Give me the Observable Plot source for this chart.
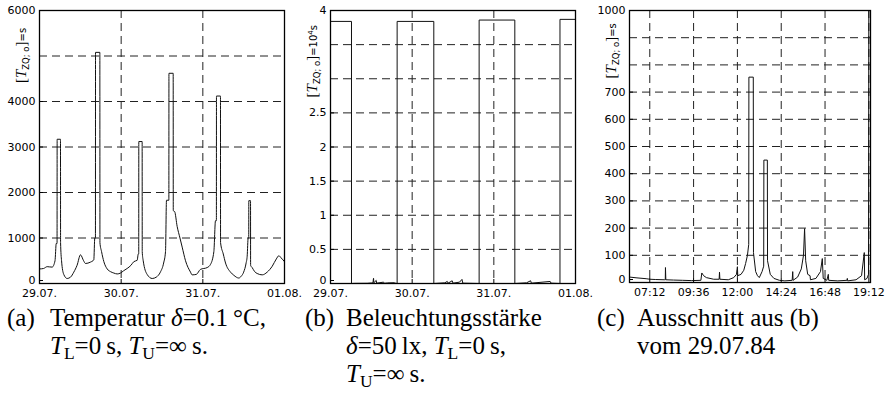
<!DOCTYPE html>
<html><head><meta charset="utf-8">
<script src="https://cdn.jsdelivr.net/npm/d3@7"></script>
<script src="https://cdn.jsdelivr.net/npm/@observablehq/plot@0.6"></script>
<style>
body{margin:0;background:#fff;}
#wrap{position:relative;width:886px;height:395px;overflow:hidden;background:#fff;}
.panel{position:absolute;top:0;}
.cap{position:absolute;font-family:"Liberation Serif","Times New Roman",serif;font-size:25px;line-height:28px;white-space:nowrap;color:#000;}
.cap i{font-style:italic;}
.cap sub{font-size:70%;vertical-align:-0.28em;line-height:0;}
</style></head>
<body>
<div id="wrap">
  <div id="pa" class="panel" style="left:0px"></div>
  <div id="pb" class="panel" style="left:290px"></div>
  <div id="pc" class="panel" style="left:580px"></div>
  <div class="cap" style="left:7px;top:304px">(a)</div>
  <div class="cap" style="left:50px;top:304px">Temperatur <i>δ</i>=0.1&#8201;°C,<br><i>T</i><sub>L</sub>=0&#8201;s, <i>T</i><sub>U</sub>=∞&#8201;s.</div>
  <div class="cap" style="left:305px;top:304px">(b)</div>
  <div class="cap" style="left:346px;top:304px">Beleuchtungsstärke<br><i>δ</i>=50&#8201;lx, <i>T</i><sub>L</sub>=0&#8201;s,<br><i>T</i><sub>U</sub>=∞&#8201;s.</div>
  <div class="cap" style="left:597px;top:304px">(c)</div>
  <div class="cap" style="left:637px;top:304px">Ausschnitt aus (b)<br>vom 29.07.84</div>
</div>
<script>
// ---- data ----
const dayLabels = ["29.07.", "30.07.", "31.07.", "01.08."];
const dayTicks = [0, 1, 2, 3];
const dayGrid = [1, 2];

const tempTicks = [0, 1000, 2000, 3000, 4000, 6000];
const tempGrid = [1000, 2000, 3000, 4000, 5000];
// [days since 29.07. 00:00, T_ZQ;o in s]
const tempSeries = [[0,320],[0.05,330],[0.094,370],[0.155,360],[0.19,500],[0.205,880],[0.215,880],[0.216,3170],[0.257,3170],[0.258,900],[0.27,500],[0.297,200],[0.339,110],[0.38,140],[0.42,250],[0.46,400],[0.502,630],[0.54,500],[0.563,440],[0.624,470],[0.665,520],[0.677,1000],[0.685,1000],[0.686,5080],[0.739,5080],[0.740,900],[0.76,700],[0.788,480],[0.829,320],[0.87,260],[0.91,230],[0.951,210],[0.992,230],[1.03,280],[1.073,330],[1.12,400],[1.155,480],[1.196,510],[1.21,650],[1.215,650],[1.216,3120],[1.257,3120],[1.258,700],[1.27,500],[1.318,200],[1.38,110],[1.43,140],[1.48,250],[1.52,450],[1.543,700],[1.555,1830],[1.584,1830],[1.585,4620],[1.637,4620],[1.638,1600],[1.655,1580],[1.686,1250],[1.72,1000],[1.747,800],[1.788,500],[1.849,250],[1.869,190],[1.92,200],[1.971,310],[2.053,350],[2.094,420],[2.135,700],[2.155,1380],[2.166,1380],[2.167,4120],[2.216,4120],[2.217,900],[2.25,650],[2.278,450],[2.339,250],[2.38,180],[2.44,120],[2.47,160],[2.5,250],[2.53,450],[2.543,600],[2.555,1000],[2.562,1000],[2.563,1820],[2.584,1820],[2.585,400],[2.604,350],[2.635,260],[2.665,220],[2.727,190],[2.788,250],[2.85,380],[2.9,540],[2.931,610],[2.96,560],[3.0,480]];

const lightTicks = [0, 0.5, 1, 1.5, 2, 2.5, 4];
const lightGrid = [0.5, 1, 1.5, 2, 2.5, 3, 3.5];
// [days since 29.07. 00:00, T_ZQ;o in 10^4 s]
const lightSeries = [[0,3.84],[0.257,3.84],[0.2571,0],[0.30,0.002],[0.45,0.003],[0.5,0.008],[0.52,0.01],[0.5265,0.0755],[0.5275,0.0755],[0.53,0.01],[0.56,0.045],[0.565,0.005],[0.65,0.02],[0.66,0.003],[0.70,0.009],[0.78,0.011],[0.80,0.003],[0.8159,0],[0.816,3.84],[1.265,3.84],[1.2651,0],[1.40,0.01],[1.43,0.03],[1.44,0.005],[1.49,0.04],[1.50,0.005],[1.58,0.02],[1.61,0.06],[1.62,0.005],[1.8199,0],[1.82,3.86],[2.257,3.86],[2.2571,0],[2.40,0.01],[2.45,0.04],[2.46,0.005],[2.69,0.03],[2.70,0.005],[2.8099,0],[2.81,3.87],[3.0,3.87]];

const detailTicks = [0, 100, 200, 300, 400, 500, 600, 700, 1000];
const detailGrid = [100, 200, 300, 400, 500, 600, 700, 800, 900];
const hourTicks = [7.2, 9.6, 12, 14.4, 16.8, 19.2];
const hourDomain = [6.09, 19.29];
// [hour of 29.07.84, T_ZQ;o in s]
const detailSeries = [[6.09,20],[6.5,17],[7.0,14],[7.2,12],[7.5,11],[8.0,10],[8.05,10],[8.06,55],[8.08,10],[8.5,9],[9.0,8],[9.5,7],[10.0,8],[10.05,35],[10.15,25],[10.3,18],[10.7,12],[11.0,12],[11.02,38],[11.04,12],[11.5,10],[11.8,18],[11.95,30],[12.0,58],[12.02,25],[12.2,30],[12.35,45],[12.45,70],[12.55,100],[12.62,140],[12.63,755],[12.87,755],[12.88,110],[13.0,40],[13.1,25],[13.2,18],[13.35,40],[13.44,60],[13.45,450],[13.64,450],[13.65,80],[13.8,30],[14.0,15],[14.3,8],[14.6,6],[15.0,8],[15.03,40],[15.05,8],[15.3,20],[15.5,50],[15.62,100],[15.68,198],[15.74,80],[15.85,30],[15.98,25],[16.0,10],[16.3,15],[16.55,40],[16.65,88],[16.7,15],[16.9,8],[16.98,30],[17.0,8],[17.5,6],[18.0,8],[18.02,15],[18.04,6],[18.5,10],[18.8,25],[18.95,110],[18.97,10],[19.1,15],[19.18,30],[19.2,1200],[19.29,1200]];

// ---- drawing ----
const pad = n => String(n).padStart(2, "0");
const hhmm = h => { const t = Math.round(h * 60); return pad(Math.floor(t / 60)) + ":" + pad(t % 60); };

function panel(o) {
  const axisOpts = {anchor: "left", tickSize: -4, tickPadding: 8, tickFormat: o.yFmt, label: null, fontSize: 11};
  const chart = Plot.plot({
    width: o.width, height: 300,
    marginLeft: o.ml, marginRight: o.mr, marginTop: 10, marginBottom: o.mb,
    style: {background: "transparent", overflow: "visible", fontFamily: "'DejaVu Sans', sans-serif", fontSize: "11px", color: "#000"},
    x: {domain: o.xDomain},
    y: {domain: o.yDomain},
    marks: [
      Plot.gridY(o.yGrid, {stroke: "#222", strokeOpacity: 1, strokeWidth: 1, strokeDasharray: "8,5"}),
      Plot.gridX(o.xGrid, {stroke: "#222", strokeOpacity: 1, strokeWidth: 1, strokeDasharray: "8,5"}),
      Plot.line(o.series, {x: d => d[0], y: d => d[1], stroke: "#111", strokeWidth: 1, curve: o.curve, clip: true}),
      Plot.axisY(o.yTicks.filter(d => d !== 0), axisOpts),
      Plot.axisY([0], {...axisOpts, dy: -3}),
      Plot.axisX(o.xTicks, {anchor: "bottom", tickSize: -4, tickPadding: 10, tickFormat: o.xFmt, label: null, fontSize: 11}),
      Plot.frame({stroke: "#000", strokeWidth: 1.3})
    ]
  });
  // rotated y label
  const cy = chart.scale("y").apply(o.labelAt);
  const g = d3.select(chart).append("g").attr("transform", `translate(${o.ml - 17},${cy}) rotate(-90)`);
  const t = g.append("text").attr("text-anchor", "middle").attr("y", 4).attr("fill", "#000");
  t.append("tspan").attr("font-family", "'Liberation Serif', serif").attr("font-size", 15).text("[");
  t.append("tspan").attr("font-family", "'Liberation Serif', serif").attr("font-style", "italic").attr("font-size", 15).text("T");
  t.append("tspan").attr("font-family", "'DejaVu Sans', sans-serif").attr("font-size", 8.5).attr("dy", 3).text("ZQ; o");
  t.append("tspan").attr("font-family", "'Liberation Serif', serif").attr("font-size", 15).attr("dy", -3).text("]");
  t.append("tspan").attr("font-family", "'DejaVu Sans', sans-serif").attr("font-size", 10).text("=" + o.unit);
  if (o.unitSup) {
    t.append("tspan").attr("font-family", "'DejaVu Sans', sans-serif").attr("font-size", 7).attr("dy", -4).text(o.unitSup);
    t.append("tspan").attr("font-family", "'DejaVu Sans', sans-serif").attr("font-size", 10).attr("dy", 4).text("s");
  }
  return chart;
}

document.getElementById("pa").append(panel({
  width: 290, ml: 39, mr: 6, mb: 17,
  xDomain: [0, 3], yDomain: [0, 6000],
  xTicks: dayTicks, xGrid: dayGrid, xFmt: d => dayLabels[d],
  yTicks: tempTicks, yGrid: tempGrid, yFmt: d => String(d),
  series: tempSeries, curve: "monotone-x", labelAt: 5000, unit: "s"
}));
document.getElementById("pb").append(panel({
  width: 290, ml: 40, mr: 5, mb: 17,
  xDomain: [0, 3], yDomain: [0, 4],
  xTicks: dayTicks, xGrid: dayGrid, xFmt: d => dayLabels[d],
  yTicks: lightTicks, yGrid: lightGrid, yFmt: d => String(d),
  series: lightSeries, curve: "linear", labelAt: 3.25, unit: "10", unitSup: "4"
}));
document.getElementById("pc").append(panel({
  width: 306, ml: 49, mr: 16, mb: 18,
  xDomain: hourDomain, yDomain: [0, 1000],
  xTicks: hourTicks, xGrid: hourTicks, xFmt: hhmm,
  yTicks: detailTicks, yGrid: detailGrid, yFmt: d => String(d),
  series: detailSeries, curve: "linear", labelAt: 850, unit: "s"
}));
</script>
</body></html>
